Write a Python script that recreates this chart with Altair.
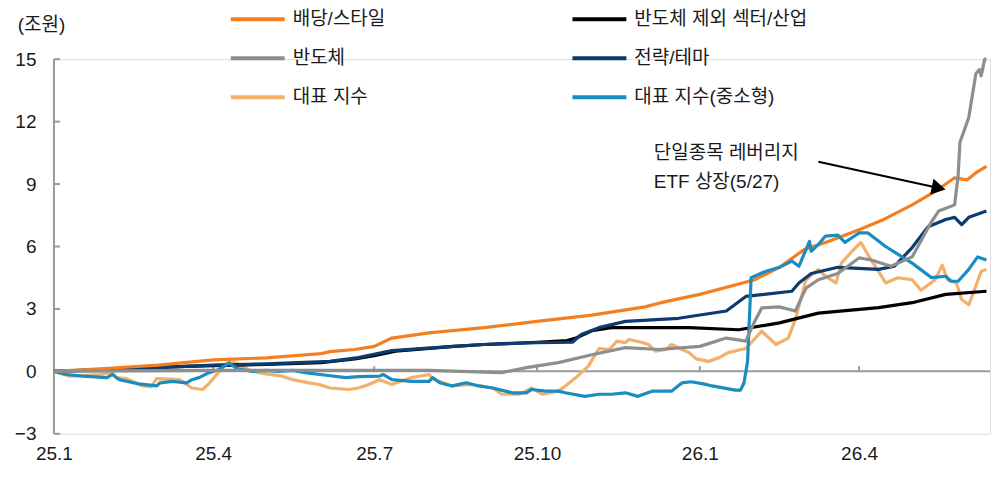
import altair as alt
import pandas as pd

FONT = "Liberation Sans, Arial, Noto Sans CJK KR, sans-serif"
START = pd.Timestamp("2025-01-01")

# legend order (column-major, 3 rows x 2 columns)
SERIES = ["배당/스타일", "반도체", "대표 지수", "반도체 제외 섹터/산업", "전략/테마", "대표 지수(중소형)"]
COLORS = ["#F47F20", "#8E8E8E", "#F2B06B", "#000000", "#0C3B70", "#1A8DC0"]

# day offsets since 2025-01-01 and values (조원)
div_days = [0, 31, 59, 90, 120, 151, 156, 170, 181, 191, 212, 243, 273, 304, 334, 343, 365, 396, 410, 424, 438, 455, 469, 485, 499, 509, 516, 522, 527]
div_vals = [0, 0.15, 0.3, 0.55, 0.65, 0.85, 0.95, 1.05, 1.2, 1.6, 1.85, 2.1, 2.4, 2.7, 3.1, 3.3, 3.7, 4.4, 5.0, 5.85, 6.25, 6.8, 7.3, 8.0, 8.7, 9.3, 9.2, 9.6, 9.85]

exsemi_days = [0, 31, 59, 90, 120, 151, 170, 181, 193, 226, 243, 273, 290, 295, 304, 315, 342, 359, 387, 410, 432, 466, 485, 504, 527]
exsemi_vals = [0, 0.1, 0.2, 0.28, 0.33, 0.42, 0.6, 0.75, 0.97, 1.2, 1.29, 1.4, 1.48, 1.6, 1.95, 2.1, 2.1, 2.1, 2.0, 2.33, 2.8, 3.06, 3.3, 3.7, 3.85]

semi_days = [0, 31, 90, 151, 212, 253, 267, 285, 304, 323, 342, 365, 380, 391, 396, 400, 410, 419, 425, 432, 443, 455, 462, 473, 485, 496, 500, 509, 511, 512, 517, 521, 523, 524, 526, 527]
semi_vals = [0, 0.02, 0.05, 0.05, 0.05, -0.06, 0.18, 0.42, 0.8, 1.14, 1.05, 1.2, 1.6, 1.45, 2.4, 3.05, 3.1, 2.9, 4.0, 4.4, 4.7, 5.45, 5.35, 5.05, 5.5, 7.2, 7.7, 8.0, 9.4, 11.0, 12.2, 14.3, 14.5, 14.2, 15.0, 15.0]

theme_days = [0, 31, 59, 90, 120, 156, 172, 191, 226, 243, 273, 293, 298, 308, 323, 353, 380, 391, 417, 421, 428, 443, 466, 475, 485, 494, 504, 509, 513, 517, 527]
theme_vals = [0, 0.08, 0.18, 0.3, 0.36, 0.48, 0.66, 1.0, 1.2, 1.29, 1.38, 1.4, 1.77, 2.1, 2.4, 2.55, 2.9, 3.6, 3.85, 4.25, 4.7, 5.0, 4.9, 5.05, 5.95, 6.95, 7.3, 7.4, 7.05, 7.4, 7.7]

idx_days = [0, 9, 26, 33, 35, 41, 50, 55, 58, 71, 78, 84, 88, 93, 99, 105, 110, 116, 129, 135, 144, 150, 156, 167, 172, 178, 184, 191, 202, 212, 214, 225, 236, 248, 253, 263, 270, 276, 285, 289, 295, 302, 308, 314, 318, 323, 325, 332, 336, 340, 346, 349, 355, 359, 363, 370, 376, 381, 391, 400, 408, 415, 419, 425, 432, 436, 442, 445, 451, 456, 460, 466, 470, 477, 485, 490, 498, 502, 505, 510, 513, 517, 521, 524, 527]
idx_vals = [0, -0.23, -0.15, -0.05, -0.3, -0.35, -0.7, -0.73, -0.35, -0.4, -0.8, -0.87, -0.55, -0.05, 0.5, 0.33, 0.08, -0.07, -0.23, -0.4, -0.55, -0.63, -0.8, -0.87, -0.8, -0.63, -0.4, -0.63, -0.3, -0.15, -0.35, -0.7, -0.63, -0.8, -1.1, -1.1, -0.8, -1.1, -0.95, -0.7, -0.3, 0.25, 1.1, 1.05, 1.45, 1.38, 1.53, 1.4, 1.29, 0.97, 1.05, 1.29, 1.05, 0.9, 0.6, 0.48, 0.66, 0.9, 1.1, 1.93, 1.29, 1.6, 2.5, 4.4, 4.9, 4.57, 4.25, 5.2, 5.77, 6.2, 5.6, 4.8, 4.25, 4.5, 4.4, 3.9, 4.4, 5.1, 4.4, 4.25, 3.45, 3.2, 4.1, 4.8, 4.9]

small_days = [0, 7, 16, 30, 33, 37, 48, 58, 60, 67, 75, 78, 82, 88, 93, 99, 103, 112, 120, 127, 135, 143, 155, 165, 172, 184, 186, 191, 202, 212, 214, 218, 225, 233, 240, 248, 259, 267, 270, 278, 285, 289, 300, 308, 315, 323, 330, 338, 349, 355, 360, 367, 372, 385, 388, 390, 392, 394, 402, 410, 417, 421, 427, 428, 432, 436, 443, 447, 455, 460, 470, 485, 496, 504, 507, 511, 517, 522, 527]
small_vals = [0, -0.15, -0.23, -0.3, -0.15, -0.4, -0.6, -0.7, -0.55, -0.48, -0.55, -0.4, -0.3, -0.05, 0.08, 0.4, 0.15, 0, 0.05, 0, 0.05, -0.07, -0.2, -0.3, -0.25, -0.23, -0.15, -0.4, -0.48, -0.48, -0.3, -0.55, -0.7, -0.55, -0.7, -0.8, -1.03, -1.03, -0.87, -0.95, -0.95, -1.03, -1.2, -1.1, -1.1, -1.03, -1.2, -0.95, -0.95, -0.55, -0.5, -0.6, -0.7, -0.9, -0.9, -0.55, 0.5, 4.5, 4.8, 5.0, 5.3, 5.05, 6.25, 5.77, 6.1, 6.5, 6.55, 6.2, 6.65, 6.65, 6.0, 5.2, 4.5, 4.57, 4.33, 4.33, 4.9, 5.5, 5.35]

# draw order (bottom to top)
draw = [
    ("대표 지수", idx_days, idx_vals),
    ("반도체 제외 섹터/산업", exsemi_days, exsemi_vals),
    ("전략/테마", theme_days, theme_vals),
    ("배당/스타일", div_days, div_vals),
    ("대표 지수(중소형)", small_days, small_vals),
    ("반도체", semi_days, semi_vals),
]
frames = []
for name, days, vals in draw:
    frames.append(pd.DataFrame({
        "date": [(START + pd.Timedelta(days=d)).strftime("%Y-%m-%d") for d in days],
        "value": vals,
        "series": name,
    }))
df = pd.concat(frames, ignore_index=True)

y_ticks = [-3, 0, 3, 6, 9, 12, 15]
x_tick_dates = ["2025-01-01", "2025-04-01", "2025-07-01", "2025-10-01", "2026-01-01", "2026-04-01"]
zero_tick_dates = ["2025-04-01", "2025-07-01", "2025-10-01", "2026-01-01", "2026-04-01"]

note_lines = ["단일종목 레버리지", "ETF 상장(5/27)"]
note_day = 339
note_vals = [10.5, 9.11]
arrow_days = [432, 500]
arrow_vals = [10.07, 8.81]

W, H = 937, 375

x_scale = alt.Scale(type="utc", domain=[alt.DateTime(year=2025, month=1, date=1, utc=True),
                                        alt.DateTime(year=2026, month=6, date=14, utc=True)])
y_scale = alt.Scale(domain=[-3, 15], nice=False, zero=False)

x_axis = alt.Axis(values=[alt.DateTime(year=int(s[:4]), month=int(s[5:7]), date=1, utc=True) for s in x_tick_dates],
                  labelExpr="utcFormat(datum.value, '%y') + '.' + (utcmonth(datum.value) + 1)",
                  domain=False, ticks=False, grid=False, labelPadding=11, labelFontSize=19,
                  labelFont=FONT, labelColor="#1a1a1a", title=None, labelFlush=False)
y_axis = alt.Axis(values=y_ticks, domain=False, ticks=False, grid=False, labelPadding=18,
                  labelFontSize=19, labelFont=FONT, labelColor="#1a1a1a",
                  title="(조원)", titleAngle=0, titleX=-13, titleY=-35, titleAlign="center",
                  titleBaseline="middle", titleFontSize=19, titleFont=FONT, titleFontWeight="normal",
                  titleColor="#1a1a1a")

lines = alt.Chart(df).mark_line(strokeWidth=3.2, strokeJoin="round").encode(
    x=alt.X("date:T", scale=x_scale, axis=x_axis),
    y=alt.Y("value:Q", scale=y_scale, axis=y_axis),
    color=alt.Color("series:N", scale=alt.Scale(domain=SERIES, range=COLORS),
                    legend=alt.Legend(title=None, orient="none", legendX=175, legendY=-69,
                                      columns=2, columnPadding=179, rowPadding=-5,
                                      symbolType="stroke", symbolSize=2916, symbolStrokeWidth=4,
                                      labelFontSize=19, labelFont=FONT, labelColor="#1a1a1a",
                                      labelOffset=6, labelLimit=400, padding=0)),
    detail="series:N",
)

zero_rule = alt.Chart(pd.DataFrame({"v": [0]})).mark_rule(color="#9a9a9a", strokeWidth=2).encode(
    y=alt.Y("v:Q", scale=y_scale), x=alt.value(0), x2=alt.value(W))

zero_ticks = alt.Chart(pd.DataFrame({"date": zero_tick_dates, "v": 0, "v2": 0.25})).mark_rule(
    color="#9a9a9a", strokeWidth=2).encode(
    x=alt.X("date:T", scale=x_scale), y=alt.Y("v:Q", scale=y_scale), y2="v2:Q")

y_line = alt.Chart(pd.DataFrame({"d": ["2025-01-01"], "a": [-3], "b": [15]})).mark_rule(
    color="#9a9a9a", strokeWidth=2).encode(
    x=alt.value(0), y=alt.Y("a:Q", scale=y_scale), y2="b:Q")

y_tick_marks = alt.Chart(pd.DataFrame({"v": y_ticks})).mark_rule(color="#9a9a9a", strokeWidth=2).encode(
    y=alt.Y("v:Q", scale=y_scale), x=alt.value(0), x2=alt.value(6))

note_df = pd.DataFrame({"date": [(START + pd.Timedelta(days=note_day)).strftime("%Y-%m-%d")] * 2,
                        "v": note_vals, "t": note_lines})
note = alt.Chart(note_df).mark_text(align="left", baseline="middle", fontSize=19, font=FONT,
                                    color="#1a1a1a").encode(
    x=alt.X("date:T", scale=x_scale), y=alt.Y("v:Q", scale=y_scale), text="t:N")

arrow_df = pd.DataFrame({"d1": [(START + pd.Timedelta(days=arrow_days[0])).strftime("%Y-%m-%d")],
                         "d2": [(START + pd.Timedelta(days=arrow_days[1])).strftime("%Y-%m-%d")],
                         "v1": [arrow_vals[0]], "v2": [arrow_vals[1]]})
arrow_line = alt.Chart(arrow_df).mark_rule(color="#000000", strokeWidth=2).encode(
    x=alt.X("d1:T", scale=x_scale), x2="d2:T", y=alt.Y("v1:Q", scale=y_scale), y2="v2:Q")
arrow_head = alt.Chart(arrow_df).mark_point(shape="triangle-right", filled=True, color="#000000",
                                            size=260, angle=12, opacity=1).encode(
    x=alt.X("d2:T", scale=x_scale), y=alt.Y("v2:Q", scale=y_scale))

chart = alt.layer(zero_rule, zero_ticks, y_line, y_tick_marks, lines, note, arrow_line, arrow_head).properties(
    width=W, height=H,
    padding={"left": 46, "top": 51, "right": 1, "bottom": 36},
    autosize=alt.AutoSizeParams(type="none"),
).configure_view(stroke=None).configure(background="white")

chart.save("out.html", embed_options={"renderer": "svg", "actions": False})
